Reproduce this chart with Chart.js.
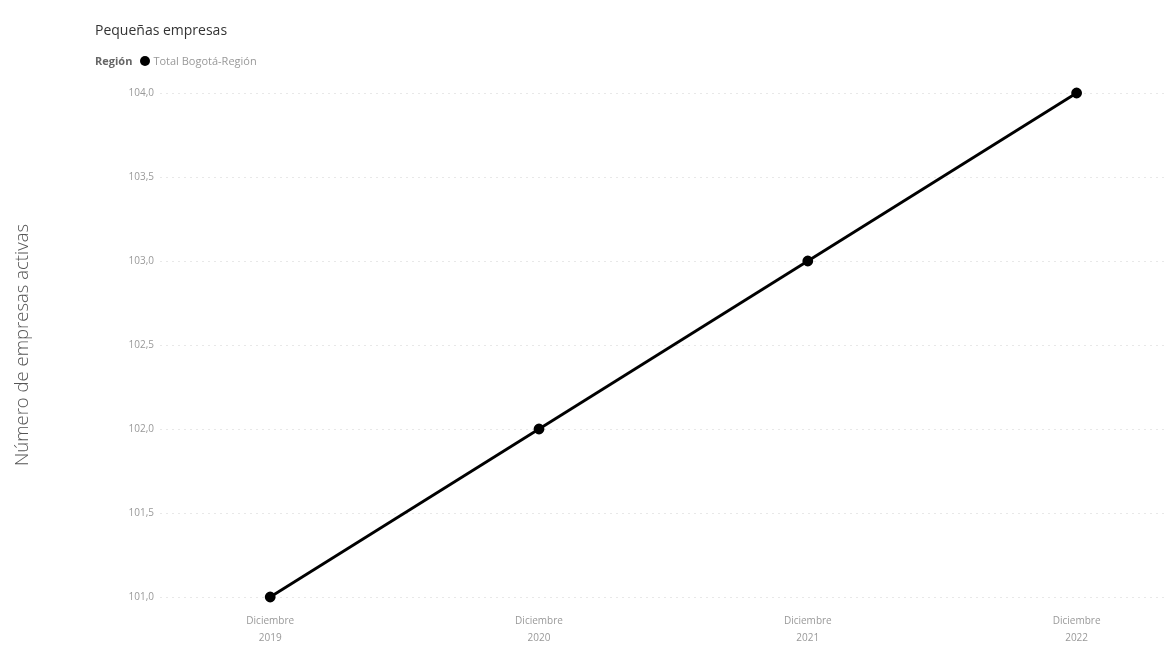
<!DOCTYPE html>
<html lang="es">
<head>
  <meta charset="UTF-8" />
  <title>Pequeñas empresas</title>
  <script src="https://cdn.jsdelivr.net/npm/chart.js"></script>
  <style>
    html, body {
      margin: 0;
      padding: 0;
      background: #fff;
      font-family: "Open Sans", "Noto Sans", sans-serif;
    }
    #wrap {
      position: relative;
      width: 1168px;
      height: 649px;
    }
    #title {
      position: absolute;
      left: 95px;
      top: 20px;
      font-size: 14px;
      color: #333;
    }
    #legend {
      position: absolute;
      left: 95px;
      top: 53px;
      font-size: 11px;
      color: #999;
      display: flex;
      align-items: center;
    }
    #legend b {
      color: #666;
      margin-right: 8px;
    }
    #legend .dot {
      width: 10px;
      height: 10px;
      border-radius: 50%;
      background: #000;
      margin-right: 3px;
    }
    canvas {
      position: absolute;
      left: 0;
      top: 0;
    }
  </style>
</head>
<body>
  <div id="wrap">
    <canvas id="chart" width="1168" height="649"></canvas>
    <div id="title">Pequeñas empresas</div>
    <div id="legend"><b>Región</b><span class="dot"></span><span>Total Bogotá-Región</span></div>
  </div>

  <script>
    const years = [2019, 2020, 2021, 2022];
    const monthLabel = 'Diciembre';
    const seriesName = 'Total Bogotá-Región';
    const values = [101.0, 102.0, 103.0, 104.0];
    const yTicks = [101.0, 101.5, 102.0, 102.5, 103.0, 103.5, 104.0];

    const fmt = v => v.toFixed(1).replace('.', ',');

    new Chart(document.getElementById('chart'), {
      type: 'line',
      data: {
        datasets: [{
          label: seriesName,
          data: years.map((y, i) => ({ x: y, y: values[i] })),
          borderColor: '#000',
          backgroundColor: '#000',
          borderWidth: 2.8,
          pointRadius: 4,
          pointHoverRadius: 4,
          fill: false,
          tension: 0,
          clip: false
        }]
      },
      options: {
        responsive: false,
        animation: false,
        layout: { autoPadding: false, padding: { top: 93, right: 0, left: 0, bottom: 0 } },
        plugins: {
          legend: { display: false },
          tooltip: { enabled: false }
        },
        scales: {
          x: {
            type: 'linear',
            min: 2018.59,
            max: 2022.34,
            afterBuildTicks: s => { s.ticks = years.map(v => ({ value: v })); },
            afterFit: s => { s.height = 52; },
            grid: { display: false },
            border: { display: false },
            ticks: {
              color: '#999',
              font: { family: 'Open Sans', size: 10, lineHeight: 1.7 },
              padding: 8,
              maxRotation: 0,
              callback: v => [monthLabel, String(v)]
            }
          },
          y: {
            min: 101,
            max: 104,
            afterBuildTicks: s => { s.ticks = yTicks.map(v => ({ value: v })); },
            afterFit: s => { s.width = 160; },
            border: { display: false, dash: [2, 4] },
            grid: {
              color: '#e8e8e8',
              lineWidth: 1,
              drawTicks: false
            },
            ticks: {
              color: '#999',
              font: { family: 'Open Sans', size: 10 },
              padding: 6,
              callback: v => fmt(v)
            },
            title: {
              display: true,
              text: 'Número de empresas activas',
              color: '#555',
              font: { family: 'Open Sans', size: 18.5, weight: '300' },
              padding: { top: 12, bottom: 0 }
            }
          }
        }
      }
    });
  </script>
</body>
</html>
